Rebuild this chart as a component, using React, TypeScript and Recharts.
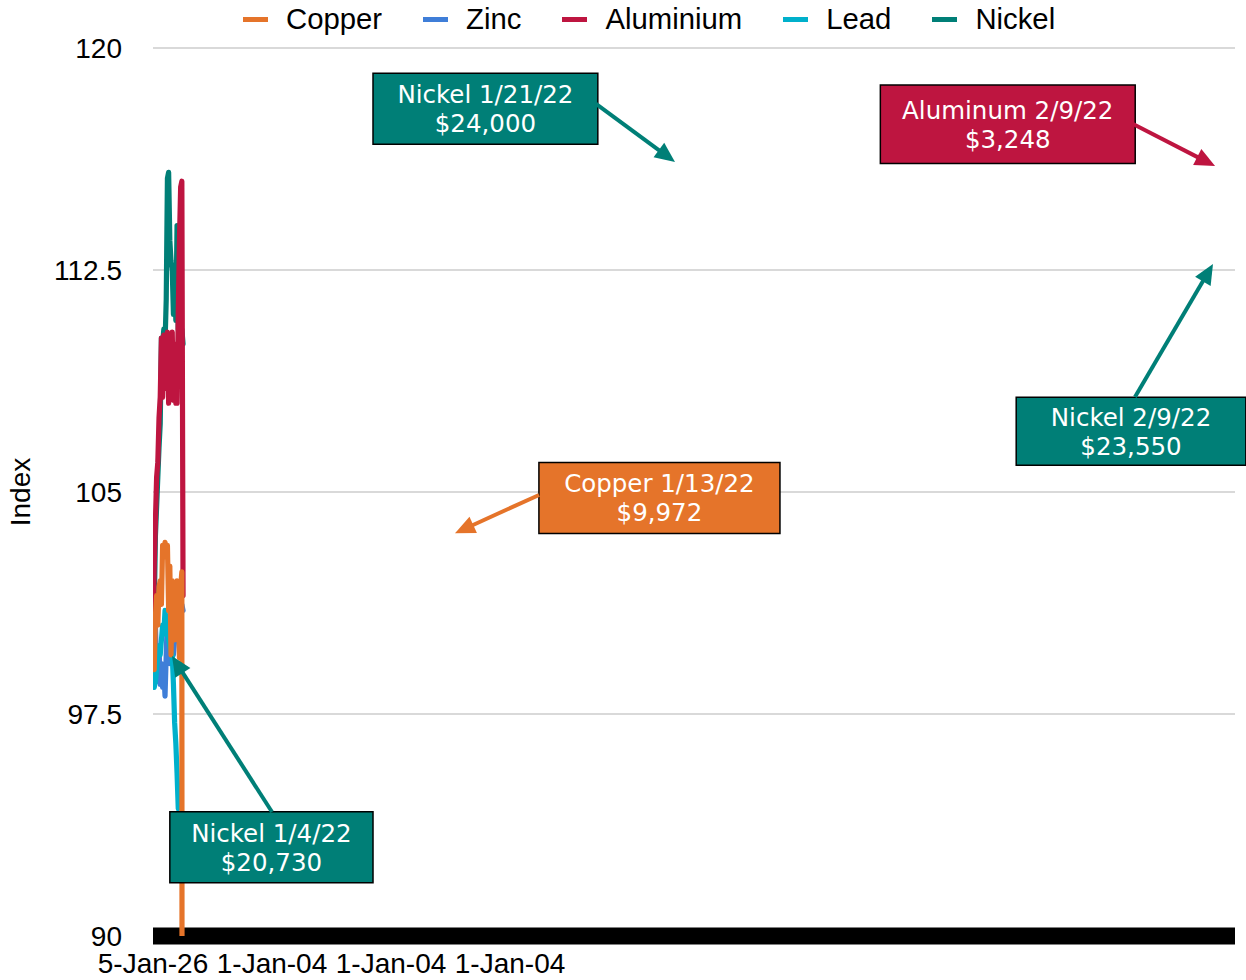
import React from 'react';
import {
  LineChart,
  Line,
  XAxis,
  YAxis,
  CartesianGrid,
  Legend,
  ReferenceArea,
  ReferenceLine,
} from 'recharts';

// ---------- data ----------
const seriesNames = ['Copper', 'Zinc', 'Aluminium', 'Lead', 'Nickel'];
const seriesColors: Record<string, string> = {
  Copper: '#E5742A',
  Zinc: '#3F7ED8',
  Aluminium: '#BE1540',
  Lead: '#00B0CB',
  Nickel: '#007F77',
};
const drawOrder = ['Zinc', 'Lead', 'Nickel', 'Aluminium', 'Copper'];

const copper = [100.0, 99.0, 100.8, 101.5, 100.5, 101.8, 102.0, 101.2, 103.2, 103.0, 103.3, 102.8, 103.2, 101.0, 102.5, 99.5, 102.0, 101.5, 100.0, 101.5, 102.0, 101.2, 99.4, 101.8, 102.3, 0];
const zinc = [100.2, 101.6, 100.5, 99.0, 98.6, 99.8, 98.5, 99.2, 98.4, 99.0, 98.1, 99.5, 100.8, 100.0, 99.2, 99.8, 100.5, 99.5, 100.0, 100.5, 101.0, 100.6, 101.0, 100.8, 101.2, 101.0];
const aluminium = [100.0, 102.5, 104.0, 105.5, 106.0, 107.5, 108.2, 110.2, 108.2, 110.3, 110.0, 108.5, 110.4, 108.0, 110.2, 109.5, 110.4, 108.1, 110.0, 108.0, 108.0, 111.0, 113.5, 115.3, 115.5, 101.5];
const lead = [99.2, 98.4, 98.6, 99.0, 99.5, 99.8, 99.5, 100.0, 100.5, 100.2, 101.0, 100.5, 100.2, 100.0, 99.8, 99.6, 99.5, 98.5, 97.2, 96.5, 95.5, 94.3, null, null, null, null];
const nickel = [99.5, 101.0, 103.5, 104.5, 105.5, 106.5, 107.3, 110.2, 110.0, 110.5, 110.0, 111.5, 115.6, 115.8, 113.5, 112.8, 112.5, 111.0, 112.0, 110.8, 114.0, 110.5, 111.0, 110.0, 110.5, 110.0];

const xTickValues = [0, 99, 198, 297];
const xTickLabels = ['5-Jan-26', '1-Jan-04', '1-Jan-04', '1-Jan-04'];
const xDomainMax = 900;
const yTicks = [90, 97.5, 105, 112.5, 120];

// callouts
const calloutTitles = ['Nickel 1/4/22', 'Nickel 1/21/22', 'Copper 1/13/22', 'Aluminum 2/9/22', 'Nickel 2/9/22'];
const calloutPrices = ['$20,730', '$24,000', '$9,972', '$3,248', '$23,550'];
const calloutFills = ['#007F77', '#007F77', '#E5742A', '#BE1540', '#007F77'];
// box corners in chart units [x1, x2, y1, y2]
const calloutBoxes = [
  [14, 183, 91.8, 94.2],
  [183, 370, 116.75, 119.15],
  [321, 521.5, 103.6, 106.0],
  [605, 817, 116.1, 118.75],
  [718, 909, 105.9, 108.2],
];
// arrow [fromX, fromY, toX, toY] in chart units
const calloutArrows = [
  [99, 94.19, 15.8, 99.46],
  [368.5, 118.11, 434.2, 116.15],
  [321.1, 104.9, 251.2, 103.61],
  [815.2, 117.43, 883.4, 116.01],
  [816.8, 108.21, 881.7, 112.7],
];

const data = copper.map((_, i) => ({
  idx: i,
  Copper: copper[i],
  Zinc: zinc[i],
  Aluminium: aluminium[i],
  Lead: lead[i],
  Nickel: nickel[i],
}));

const FONT = 'Liberation Sans, Arial, sans-serif';
const CALLOUT_FONT = 'DejaVu Sans, Verdana, sans-serif';

function LegendContent() {
  return (
    <div
      style={{
        height: 48,
        paddingLeft: 243,
        display: 'flex',
        alignItems: 'flex-start',
        boxSizing: 'border-box',
        fontFamily: FONT,
        fontSize: 29.3,
        color: '#000',
      }}
    >
      {seriesNames.map((n) => (
        <div key={n} style={{ display: 'flex', alignItems: 'center', height: 38, marginRight: 41 }}>
          <div style={{ width: 25, height: 5, background: seriesColors[n], marginRight: 18 }} />
          <span style={{ lineHeight: '38px', whiteSpace: 'nowrap' }}>{n}</span>
        </div>
      ))}
    </div>
  );
}

const makeCalloutLabel = (title: string, price: string) => (props: any) => {
  const vb = props.viewBox || {};
  const cx = vb.x + vb.width / 2;
  const cy = vb.y + vb.height / 2;
  return (
    <g>
      <text x={cx} y={cy - 5.5} textAnchor="middle" fill="#fff" fontSize={24.5} fontFamily={CALLOUT_FONT}>
        {title}
      </text>
      <text x={cx} y={cy + 23.5} textAnchor="middle" fill="#fff" fontSize={24.5} fontFamily={CALLOUT_FONT}>
        {price}
      </text>
    </g>
  );
};

const makeArrowShape = (color: string) => (props: any) => {
  const { x1, y1, x2, y2 } = props;
  if ([x1, y1, x2, y2].some((v) => typeof v !== 'number' || isNaN(v))) return <g />;
  const dx = x2 - x1;
  const dy = y2 - y1;
  const len = Math.sqrt(dx * dx + dy * dy) || 1;
  const ux = dx / len;
  const uy = dy / len;
  const headLen = 20;
  const halfW = 9;
  const bx = x2 - ux * headLen;
  const by = y2 - uy * headLen;
  const px = -uy;
  const py = ux;
  return (
    <g>
      <line x1={x1} y1={y1} x2={bx + ux * 2} y2={by + uy * 2} stroke={color} strokeWidth={4} />
      <polygon
        points={`${x2},${y2} ${bx + px * halfW},${by + py * halfW} ${bx - px * halfW},${by - py * halfW}`}
        fill={color}
      />
    </g>
  );
};

export default function App() {
  return (
    <div style={{ position: 'absolute', left: 0, top: 0, width: 1246, height: 980, fontFamily: FONT, background: '#fff' }}>
      <LineChart width={1246} height={980} data={data} margin={{ top: 0, right: 11, bottom: 0, left: 0 }}>
        <CartesianGrid vertical={false} stroke="#d9d9d9" strokeWidth={2} />
        <XAxis
          dataKey="idx"
          type="number"
          domain={[0, xDomainMax]}
          allowDataOverflow
          ticks={xTickValues}
          interval={0}
          tickFormatter={(v: number) => {
            const k = xTickValues.indexOf(v);
            return k >= 0 ? xTickLabels[k] : '';
          }}
          tickLine={false}
          tickSize={0}
          tickMargin={17}
          axisLine={{ stroke: '#000', strokeWidth: 17 }}
          height={44}
          tick={{ fontSize: 28, fill: '#000', fontFamily: FONT }}
        />
        <YAxis
          type="number"
          domain={[90, 120]}
          allowDataOverflow
          ticks={yTicks}
          interval={0}
          width={153}
          tickLine={false}
          axisLine={false}
          tickSize={0}
          tickMargin={31}
          tick={{ fontSize: 28, fill: '#000', fontFamily: FONT }}
          label={{
            content: (p: any) => {
              const vb = p.viewBox || { x: 0, y: 48, width: 153, height: 888 };
              const cy = vb.y + vb.height / 2;
              return (
                <text
                  x={20}
                  y={cy}
                  transform={`rotate(-90, 20, ${cy})`}
                  textAnchor="middle"
                  dominantBaseline="central"
                  fontSize={28}
                  fill="#000"
                  fontFamily={FONT}
                >
                  Index
                </text>
              );
            },
          }}
        />
        <Legend verticalAlign="top" align="left" wrapperStyle={{ left: 0, top: 0, width: 1246 }} content={() => <LegendContent />} />
        {drawOrder.map((n) => (
          <Line
            key={n}
            type="linear"
            dataKey={n}
            stroke={seriesColors[n]}
            strokeWidth={5.2}
            strokeLinejoin="round"
            strokeLinecap="round"
            dot={false}
            activeDot={false}
            isAnimationActive={false}
            connectNulls={false}
            legendType="plainline"
            zIndex={n === 'Copper' ? 600 : undefined}
          />
        ))}
        {calloutBoxes.map((b, k) => (
          <ReferenceArea
            key={'box' + k}
            x1={b[0]}
            x2={b[1]}
            y1={b[2]}
            y2={b[3]}
            ifOverflow="visible"
            fill={calloutFills[k]}
            fillOpacity={1}
            stroke="#000"
            strokeWidth={1.5}
            zIndex={1500}
            label={makeCalloutLabel(calloutTitles[k], calloutPrices[k])}
          />
        ))}
        {calloutArrows.map((a, k) => (
          <ReferenceLine
            key={'arr' + k}
            segment={[
              { x: a[0], y: a[1] },
              { x: a[2], y: a[3] },
            ]}
            ifOverflow="visible"
            stroke={calloutFills[k]}
            zIndex={1500}
            shape={makeArrowShape(calloutFills[k])}
          />
        ))}
      </LineChart>
    </div>
  );
}
